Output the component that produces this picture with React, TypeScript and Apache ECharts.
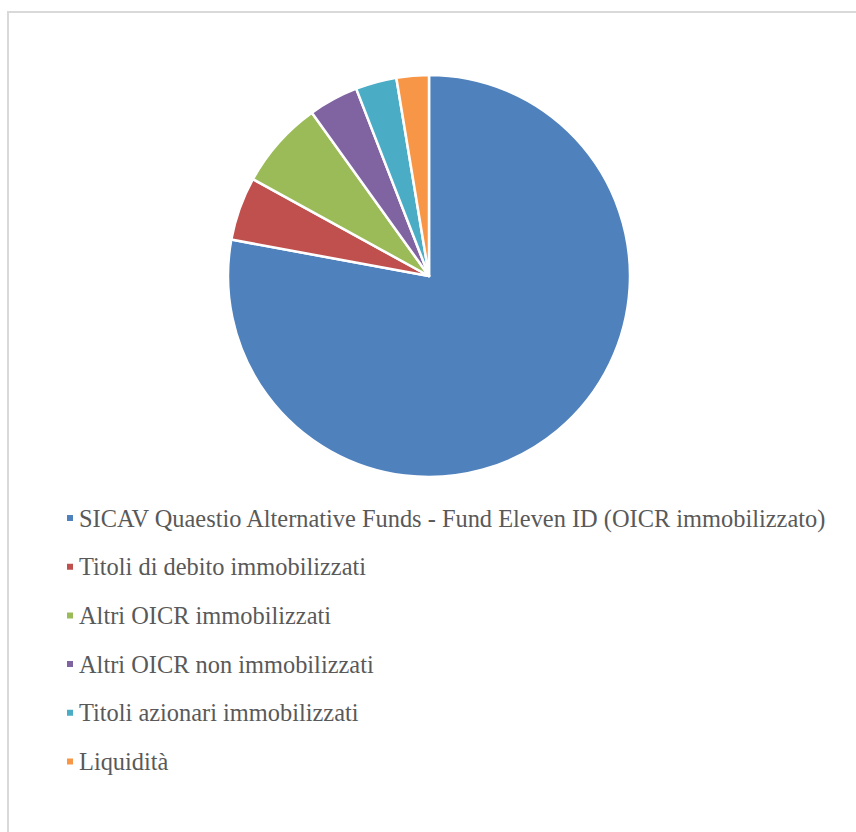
import React, { useEffect, useRef } from "react";
import * as echarts from "echarts";

const categories = [
  "SICAV Quaestio Alternative Funds - Fund Eleven ID (OICR immobilizzato)",
  "Titoli di debito immobilizzati",
  "Altri OICR immobilizzati",
  "Altri OICR non immobilizzati",
  "Titoli azionari immobilizzati",
  "Liquidità",
];
const values = [77.9, 5.1, 7.1, 4.0, 3.3, 2.6];
const colors = ["#4F81BD", "#C0504D", "#9BBB59", "#8064A2", "#4BACC6", "#F79646"];

export default function App() {
  const ref = useRef<HTMLDivElement>(null);
  useEffect(() => {
    if (!ref.current) return;
    const chart = echarts.init(ref.current, undefined, { renderer: "svg" });
    chart.setOption({
      animation: false,
      backgroundColor: "#ffffff",
      color: colors,
      graphic: [
        {
          type: "rect",
          shape: { x: 8, y: 12, width: 900, height: 900 },
          style: { fill: "none", stroke: "#d9d9d9", lineWidth: 2 },
          silent: true,
        },
      ],
      legend: {
        orient: "vertical",
        left: 65,
        top: 506,
        padding: 0,
        icon: "rect",
        itemWidth: 8,
        itemHeight: 8,
        itemGap: 24.7,
        textStyle: {
          fontFamily: "Liberation Serif",
          fontSize: 24.4,
          lineHeight: 24,
          color: "#595959",
        },
        data: categories,
      },
      series: [
        {
          type: "pie",
          center: [429, 276],
          radius: 201,
          startAngle: 90,
          clockwise: true,
          label: { show: false },
          labelLine: { show: false },
          itemStyle: { borderColor: "#ffffff", borderWidth: 2.5 },
          emphasis: { disabled: true },
          data: categories.map((name, i) => ({ name, value: values[i] })),
        },
      ],
    });
    return () => chart.dispose();
  }, []);
  return (
    <div
      ref={ref}
      style={{ position: "absolute", left: 0, top: 0, width: 856, height: 832 }}
    />
  );
}
